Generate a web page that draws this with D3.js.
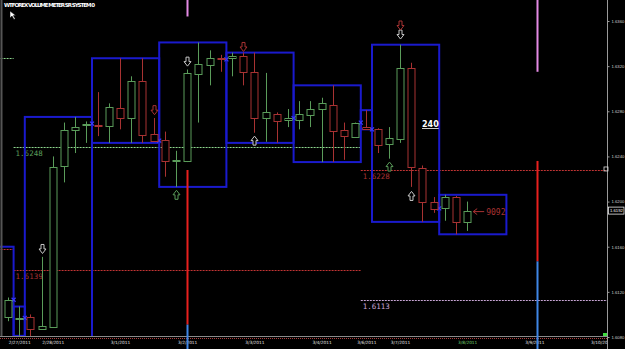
<!DOCTYPE html>
<html>
<head>
<meta charset="utf-8">
<script src="https://cdn.jsdelivr.net/npm/d3@7"></script>
<style>
html, body { margin: 0; padding: 0; background: #000; overflow: hidden; }
svg { display: block; }
</style>
</head>
<body>
<script>
// 4h candles, EURUSD-style quotes
var opens  = [1.6098, 1.6096, 1.6098, 1.6087, 1.6089, 1.6231, 1.6263, 1.6268, 1.6268, 1.6267,
              1.6283, 1.6274, 1.6307, 1.6260, 1.6255, 1.6236, 1.6236, 1.6313, 1.6321, 1.6327,
              1.6327, 1.6329, 1.6315, 1.6274, 1.6278, 1.6272, 1.6273, 1.6277, 1.6282, 1.6286,
              1.6263, 1.6258, 1.6266, 1.6264, 1.6251, 1.6255, 1.6318, 1.6230, 1.6200, 1.6194,
              1.6204, 1.6182];
var highs  = [1.6115, 1.6107, 1.6100, 1.6151, 1.6240, 1.6270, 1.6275, 1.6271, 1.6297, 1.6287,
              1.6327, 1.6311, 1.6327, 1.6274, 1.6262, 1.6245, 1.6317, 1.6341, 1.6334, 1.6330,
              1.6332, 1.6332, 1.6332, 1.6314, 1.6279, 1.6282, 1.6289, 1.6289, 1.6292, 1.6303,
              1.6270, 1.6270, 1.6281, 1.6265, 1.6266, 1.6339, 1.6323, 1.6232, 1.6204, 1.6206,
              1.6205, 1.6200];
var lows   = [1.6094, 1.6081, 1.6078, 1.6087, 1.6089, 1.6217, 1.6243, 1.6252, 1.6258, 1.6252,
              1.6264, 1.6252, 1.6252, 1.6254, 1.6222, 1.6213, 1.6235, 1.6270, 1.6303, 1.6315,
              1.6311, 1.6303, 1.6261, 1.6253, 1.6252, 1.6266, 1.6264, 1.6266, 1.6235, 1.6235,
              1.6237, 1.6258, 1.6264, 1.6243, 1.6238, 1.6252, 1.6213, 1.6182, 1.6190, 1.6183,
              1.6171, 1.6174];
var closes = [1.6113, 1.6097, 1.6087, 1.6090, 1.6231, 1.6263, 1.6266, 1.6269, 1.6267, 1.6284,
              1.6274, 1.6307, 1.6259, 1.6254, 1.6236, 1.6237, 1.6314, 1.6322, 1.6327, 1.6326,
              1.6329, 1.6315, 1.6274, 1.6279, 1.6272, 1.6274, 1.6278, 1.6282, 1.6287, 1.6263,
              1.6258, 1.6270, 1.6264, 1.6250, 1.6256, 1.6318, 1.6230, 1.6200, 1.6194, 1.6204,
              1.6182, 1.6192];

// daily range boxes (candle index span)
var dayFirst = [-5, 1, 2, 8, 14, 20, 26, 32, 33, 39];
var dayLast  = [0, 1, 7, 13, 19, 25, 31, 32, 38, 44];
var dayHigh  = [1.6160, 1.6107, 1.6275, 1.6327, 1.6341, 1.6332, 1.6303, 1.6281, 1.6339, 1.6206];
var dayLow   = [1.6040, 1.6081, 1.6078, 1.6252, 1.6213, 1.6252, 1.6235, 1.6264, 1.6182, 1.6171];

// horizontal levels
var levelPrice = [1.6248, 1.6139, 1.6228, 1.6113, 1.6327, 1.6158];
var levelFrom  = [0.5, 0.5, 31.5, 31.5, -2, -2];
var levelTo    = [31.5, 31.5, 54, 54, 0.5, 0.5];
var levelKind  = ['up', 'down', 'down', 'prev', 'up', 'down'];
var levelShown = [true, true, true, true, false, false];

// signal arrows
var arrowIdx   = [3, 16, 35, 13, 21, 35, 22, 36, 15, 34];
var arrowPrice = [1.6158, 1.6324, 1.6348, 1.6281, 1.6337, 1.6356, 1.6254, 1.6205, 1.6206, 1.6231];
var arrowKind  = ['down', 'down', 'down', 'downRed', 'downRed', 'downRed', 'up', 'up', 'upGreen', 'upGreen'];

// vertical session lines
var vlineIdx  = [16, 16, 16, 47.2, 47.2, 47.2];
var vlineHi   = [1.6420, 1.6228, 1.6091, 1.6420, 1.6236, 1.6147];
var vlineLo   = [1.6364, 1.6091, 1.6030, 1.6315, 1.6147, 1.6030];
var vlineKind = ['pink', 'red', 'blue', 'pink', 'red', 'blue'];

var dateTicks  = [1, 4, 10, 16, 22, 28, 32, 35, 41, 47, 53];
var dateLabels = ['2/27/2011', '2/28/2011', '3/1/2011', '3/2/2011', '3/3/2011', '3/4/2011',
                  '3/6/2011', '3/7/2011', '3/8/2011', '3/9/2011', '3/10/2011'];
var priceTicks = [1.6080, 1.6120, 1.6160, 1.6200, 1.6240, 1.6280, 1.6320, 1.6360];
var lastPrice = 1.6192;
var volumeText = '9092';
var periodText = '240';
var title = 'WTFOREX VOLUME METER  SR SYSTEM 0';

var colors = {
  up: '#5a9c5a', down: '#a83232', box: '#1a1acd',
  levelUp: '#8fd88f', levelDown: '#c23434', levelPrev: '#c9a6d6',
  pink: '#e48ae4', red: '#e8201e', blue: '#3f86e6', grey: '#c8c8c8'
};

var plotW = 607, plotH = 336;
var x = d3.scaleLinear().domain([0, 41]).range([8, 467.2]);
var y = d3.scaleLinear().domain([1.6080, 1.6360]).range([337, 21]);
var bodyW = 7;

var svg = d3.select('body').append('svg')
  .attr('width', 625)
  .attr('height', 349)
  .style('background', '#000');

svg.append('defs').append('clipPath').attr('id', 'plot')
  .append('rect').attr('x', 0).attr('y', 0).attr('width', plotW).attr('height', plotH);

var plot = svg.append('g').attr('clip-path', 'url(#plot)');

// left border
svg.append('line')
  .attr('x1', 1.5).attr('x2', 1.5).attr('y1', 0).attr('y2', 349)
  .attr('stroke', '#555').attr('stroke-width', 2);

// levels
var levels = d3.range(levelPrice.length);
function levelColor(i) {
  return levelKind[i] === 'up' ? colors.levelUp : levelKind[i] === 'prev' ? colors.levelPrev : colors.levelDown;
}
plot.selectAll('line.level')
  .data(levels)
  .enter()
  .append('line')
  .attr('class', 'level')
  .attr('x1', function(i) { return x(levelFrom[i]); })
  .attr('x2', function(i) { return x(levelTo[i]); })
  .attr('y1', function(i) { return Math.round(y(levelPrice[i])) + 0.5; })
  .attr('y2', function(i) { return Math.round(y(levelPrice[i])) + 0.5; })
  .attr('stroke', levelColor)
  .attr('stroke-width', 1)
  .attr('stroke-dasharray', '2,1');

plot.selectAll('text.level')
  .data(levels.filter(function(i) { return levelShown[i]; }))
  .enter()
  .append('text')
  .attr('x', function(i) { return x(levelFrom[i]) + 2; })
  .attr('y', function(i) { return y(levelPrice[i]) + 9; })
  .text(function(i) { return d3.format('.4f')(levelPrice[i]); })
  .attr('font-family', 'DejaVu Sans Mono')
  .attr('font-size', '7.5px')
  .attr('fill', function(i) { return levelKind[i] === 'up' ? colors.up : levelKind[i] === 'prev' ? colors.levelPrev : colors.down; });

// daily boxes
plot.selectAll('rect.day')
  .data(d3.range(dayFirst.length))
  .enter()
  .append('rect')
  .attr('x', function(i) { return x(dayFirst[i] - 0.5); })
  .attr('y', function(i) { return y(dayHigh[i]); })
  .attr('width', function(i) { return x(dayLast[i] + 0.5) - x(dayFirst[i] - 0.5); })
  .attr('height', function(i) { return y(dayLow[i]) - y(dayHigh[i]); })
  .attr('fill', 'none')
  .attr('stroke', colors.box)
  .attr('stroke-width', 2);

// previous close marks at day change
var marks = d3.range(1, dayFirst.length);
plot.selectAll('path.mark')
  .data(marks)
  .enter()
  .append('path')
  .attr('d', function(i) {
    var cx = x(dayFirst[i] - 0.5), cy = y(closes[dayFirst[i] - 1]);
    return 'M' + (cx - 2) + ',' + (cy - 2) + 'L' + (cx + 2) + ',' + (cy + 2) +
           'M' + (cx - 2) + ',' + (cy + 2) + 'L' + (cx + 2) + ',' + (cy - 2);
  })
  .attr('stroke', '#3a3aff')
  .attr('stroke-width', 1.2);

// candles
var candles = d3.range(opens.length);
function candleColor(i) { return closes[i] >= opens[i] ? colors.up : colors.down; }

plot.selectAll('line.wick')
  .data(candles)
  .enter()
  .append('line')
  .attr('x1', function(i) { return Math.round(x(i)) + 0.5; })
  .attr('x2', function(i) { return Math.round(x(i)) + 0.5; })
  .attr('y1', function(i) { return y(highs[i]); })
  .attr('y2', function(i) { return y(lows[i]); })
  .attr('stroke', candleColor)
  .attr('stroke-width', 1);

plot.selectAll('rect.body')
  .data(candles)
  .enter()
  .append('rect')
  .attr('x', function(i) { return Math.round(x(i)) - bodyW / 2 + 0.5; })
  .attr('y', function(i) { return Math.round(y(Math.max(opens[i], closes[i]))) + 0.5; })
  .attr('width', bodyW)
  .attr('height', function(i) { return Math.max(1, Math.round(Math.abs(y(opens[i]) - y(closes[i])))); })
  .attr('fill', '#000')
  .attr('stroke', candleColor)
  .attr('stroke-width', 1);

// arrows
function arrowPath(dir) {
  if (dir > 0) {
    return 'M-1.5,4.5L1.5,4.5L1.5,0L3.5,0L0,-4.5L-3.5,0L-1.5,0Z';
  }
  return 'M-1.5,-4.5L1.5,-4.5L1.5,0L3.5,0L0,4.5L-3.5,0L-1.5,0Z';
}
plot.selectAll('path.arrow')
  .data(d3.range(arrowIdx.length))
  .enter()
  .append('path')
  .attr('transform', function(i) { return 'translate(' + (Math.round(x(arrowIdx[i])) + 0.5) + ',' + y(arrowPrice[i]) + ')'; })
  .attr('d', function(i) { return arrowPath(arrowKind[i].indexOf('up') === 0 ? 1 : -1); })
  .attr('fill', '#000')
  .attr('stroke', function(i) {
    return arrowKind[i] === 'downRed' ? colors.down : arrowKind[i] === 'upGreen' ? colors.up : colors.grey;
  })
  .attr('stroke-width', 1);

// period label
plot.append('text')
  .attr('x', 422).attr('y', 127)
  .text(periodText)
  .attr('font-family', 'DejaVu Sans')
  .attr('font-weight', 'bold')
  .attr('font-size', '8px')
  .attr('text-decoration', 'underline')
  .attr('fill', '#fff');

// volume label with pointer
var vx = x(41) + 6, vy = y(closes[41]) + 1;
plot.append('path')
  .attr('d', 'M' + vx + ',' + vy + 'l4,-3M' + vx + ',' + vy + 'l4,3M' + vx + ',' + vy + 'h11')
  .attr('stroke', colors.down)
  .attr('fill', 'none');
plot.append('text')
  .attr('x', vx + 13).attr('y', vy + 3)
  .text(volumeText)
  .attr('font-family', 'DejaVu Sans Mono')
  .attr('font-size', '8px')
  .attr('fill', colors.down);

// title + cursor
svg.append('text')
  .attr('x', 4).attr('y', 7)
  .text(title)
  .attr('font-family', 'DejaVu Sans')
  .attr('font-weight', 'bold')
  .attr('font-size', '5.5px')
  .attr('textLength', 91)
  .attr('fill', '#fff');
svg.append('path')
  .attr('d', 'M10,11L10,18L12,16L14,19.5L15.2,18.8L13.3,15.6L15.8,15.6Z')
  .attr('fill', '#fff')
  .attr('stroke', '#000')
  .attr('stroke-width', 0.5);

// bottom time axis
svg.append('rect')
  .attr('x', 0).attr('y', plotH).attr('width', plotW).attr('height', 349 - plotH)
  .attr('fill', '#000');
svg.append('line')
  .attr('x1', 0).attr('x2', plotW).attr('y1', 336.5).attr('y2', 336.5)
  .attr('stroke', '#8a8a8a');
svg.append('line')
  .attr('x1', 0).attr('x2', plotW).attr('y1', 338.5).attr('y2', 338.5)
  .attr('stroke', '#b04040')
  .attr('stroke-dasharray', '1,1');

svg.append('g')
  .attr('transform', translate(0, 339))
  .call(d3.axisBottom(x).tickValues(dateTicks).tickSize(0).tickPadding(2)
    .tickFormat(function(d, i) { return dateLabels[i]; }))
  .call(function(g) {
    g.select('.domain').remove();
    g.selectAll('text')
      .attr('font-family', 'DejaVu Sans')
      .attr('font-size', '4.3px')
      .attr('fill', function(d) { return d === 41 ? '#6fcf6f' : '#e0e0e0'; });
  });

// vertical session lines
svg.selectAll('line.vline')
  .data(d3.range(vlineIdx.length))
  .enter()
  .append('line')
  .attr('x1', function(i) { return Math.round(x(vlineIdx[i])) + 0.5; })
  .attr('x2', function(i) { return Math.round(x(vlineIdx[i])) + 0.5; })
  .attr('y1', function(i) { return y(vlineHi[i]); })
  .attr('y2', function(i) { return y(vlineLo[i]); })
  .attr('stroke', function(i) { return colors[vlineKind[i]]; })
  .attr('stroke-width', 2);

// right price axis
svg.append('rect')
  .attr('x', plotW).attr('y', 0).attr('width', 625 - plotW).attr('height', 349)
  .attr('fill', '#000');
svg.append('g')
  .attr('transform', translate(plotW + 0.5, 0))
  .call(d3.axisRight(y).tickValues(priceTicks).tickSize(2).tickPadding(2)
    .tickFormat(d3.format('.4f')))
  .call(function(g) {
    g.select('.domain').attr('stroke', '#9a9a9a').attr('d', 'M0,0V349');
    g.selectAll('line').attr('stroke', '#9a9a9a');
    g.selectAll('text')
      .attr('font-family', 'Liberation Sans')
      .attr('font-size', '4.2px')
      .attr('fill', '#d0d0d0');
  });

// last price tag
var ly = y(lastPrice);
svg.append('rect')
  .attr('x', plotW + 1.5).attr('y', ly - 3.5).attr('width', 15.5).attr('height', 7)
  .attr('fill', '#000').attr('stroke', '#e8e8e8').attr('stroke-width', 0.8);
svg.append('text')
  .attr('x', plotW + 3).attr('y', ly + 1.5)
  .text(d3.format('.4f')(lastPrice))
  .attr('font-family', 'Liberation Sans')
  .attr('font-size', '4.2px')
  .attr('fill', '#fff');

// small markers on axis
svg.append('rect')
  .attr('x', plotW - 3).attr('y', y(1.6228) - 3).attr('width', 4).attr('height', 4)
  .attr('fill', 'none').attr('stroke', '#ddd').attr('stroke-width', 0.8);
svg.append('rect')
  .attr('x', plotW - 4).attr('y', 333).attr('width', 4).attr('height', 3)
  .attr('fill', '#3fdc3f');

function translate(a, b) {
  return 'translate(' + a + ',' + b + ')';
}
</script>
</body>
</html>
